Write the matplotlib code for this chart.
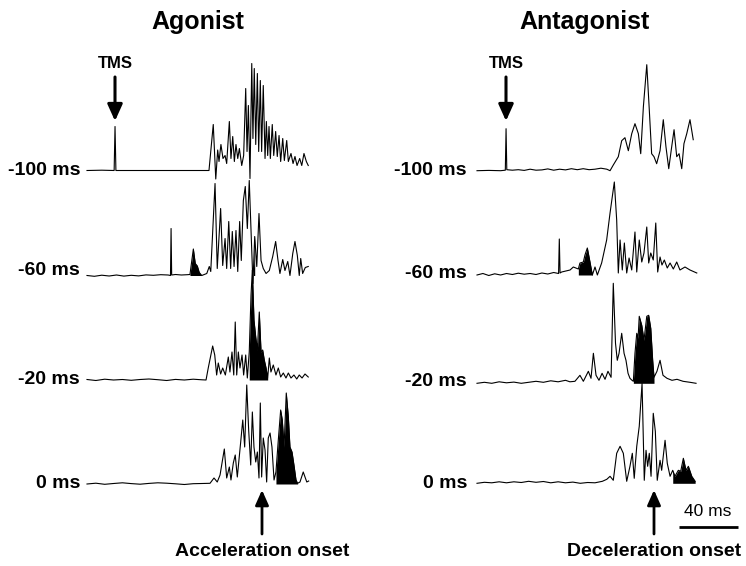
import numpy as np
import matplotlib.pyplot as plt

plt.rcParams['font.family'] = ['Liberation Sans', 'DejaVu Sans']

# EMG traces: time from trace start (ms), rectified amplitude (a.u.)
# Agonist, TMS at -100 ms
a1_t = [0, 10, 18.4, 19, 19.6, 30, 50, 70, 82.7, 85.6, 87.3, 88.6, 89.5, 90.8, 92.2, 93.6, 94.7, 96.5,
        97.6, 98.8, 99.9, 101.0, 102.2, 103.3, 104.9, 106.2, 107.6, 108.5, 109.4, 110.5, 111.7, 112.5,
        113.4, 114.4, 115.5, 116.4, 117.5, 118.4, 119.5, 120.7, 121.6, 122.5, 123.4, 124.3, 125.6, 126.6,
        127.9, 129.0, 130.2, 131.3, 132.7, 133.8, 135.4, 136.5, 138.3, 139.7, 141.0, 142.4, 144.2, 145.6,
        147.1, 148.7, 150.0]
a1_amp = [0, 0.3, 0, 44, 0, 0, 0, 0, 0, 46, -8.5, 20.5, 9, 26, 12, 15, 7, 49,
          12, 34, 9, 26, 12, 22, 5, 15, 82, 19, 65, -8, 107, 32,
          102, 26, 97, 19, 90, 19, 85, 12, 49, 15, 44, 12, 46, 15,
          39, 14, 35, 9, 32, 10, 30, 9, 17, 7, 14, 5, 12, 5,
          17, 9, 5]

# Agonist, TMS at -60 ms
a2_t = [0, 5, 10, 15, 20, 25, 30, 35, 40, 45, 50, 55, 56.6, 57, 57.4, 60, 64, 68, 69.8, 72.1, 73.4,
        74.8, 76.1, 77.8, 81.2, 82.9, 83.9, 86.8, 88.3, 90.6, 92.0, 93.6, 94.7, 96.1, 97.4, 98.5, 99.7,
        101.0, 102.2, 103.5, 104.6, 106.0, 107.3, 108.7, 110.0, 111.4, 112.5, 113.7, 115.1, 116.6, 118.0,
        119.5, 121.4, 123.6, 125.9, 127.9, 129.5, 130.8, 132.7, 134.2, 136.1, 137.6, 139.5, 141.0, 142.6,
        143.9, 144.9, 146.2, 148.0, 150.0]
a2_amp = [0, -0.8, 0.3, -0.5, 0.5, -0.6, 0.2, -0.4, 0.6, 0.2, 0.8, 0.5, 0, 47, 0.5, 1, 0.5, 0.8, 1, 26.5, 12,
          9.5, 3, 0, 2, 9, 4, 92, 7, 67, 10, 37, 7, 54, 7, 44, 9,
          45, 4, 54, 15, 75, 89, 47, 95, 37, -8, 39, 9, 62, 15,
          7, 2, 5, 19, 34, 15, 2, 16, 5, 14, 0, 22, 34, 20,
          0, 17, 2, 8, 9]

# Agonist, TMS at -20 ms
a3_t = [0, 6, 12, 18, 24, 30, 36, 42, 48, 54, 60, 66, 72, 78, 80.7, 82.2, 85.2, 86.6, 87.9, 89.0, 90.6,
        92.0, 93.8, 95.8, 96.9, 98.3, 99.5, 100.5, 101.5, 102.6, 103.7, 105.1, 106.2, 107.6, 108.7, 110.0,
        111.2, 112.1, 113.2, 114.4, 115.5, 116.8, 118.0, 119.1, 120.2, 121.4, 122.5, 123.6, 124.7, 126.3,
        128.1, 129.7, 131.3, 133.1, 134.9, 136.5, 138.3, 140.3, 142.2, 143.9, 145.8, 147.8, 150.0]
a3_amp = [0.5, -0.5, 0.8, 0, 0.5, -0.3, 0.5, 1, 0.3, -0.5, 0.6, 0, 0.8, 0.2, 0, 12, 34, 25, 5, 17, 6,
          12, 5, 23, 8, 28, 5, 58, 5, 28, 12, 25, 5, 25, 2, 28,
          85, 110, 60, 43, 30, 68, 28, 30, 20, 12, 2, 22, 8, 15,
          5, 12, 3, 7, 2, 7, 2, 5, 1, 5, 2, 6, 3]

# Agonist, TMS at 0 ms
a4_t = [0, 6, 12, 18, 24, 30, 36, 42, 48, 54, 60, 66, 72, 78, 83.4, 86.1, 88.3, 90.2, 93.1, 94.7, 96.5,
        97.6, 99.2, 100.5, 101.9, 104.2, 105.6, 106.9, 108.3, 109.6, 111.0, 112.1, 113.2, 114.4, 115.5,
        116.6, 117.5, 118.4, 119.5, 120.7, 121.8, 122.9, 124.1, 125.4, 126.8, 128.1, 129.7, 131.3, 132.4,
        133.6, 135.1, 136.5, 137.6, 139.0, 140.3, 141.7, 142.8, 144.4, 146.6, 149.0, 150.3]
a4_amp = [0, 0.8, -0.3, 0.5, 1.2, 0.4, -0.2, 0.6, 1.2, 0.8, 0.2, -0.5, 0.3, 0.5, 0.7, 6, 2, 9, 35, 6, 17,
          4, 21, 29, 7, 42, 64, 37, 99, 54, 19, 72, 37, 22, 32,
          6, 81, 7, 46, 34, 2, 46, 51, 37, 4, 12, 44, 74, 64,
          37, 91, 67, 37, 32, 19, 4, 0.7, 2, 12, 2, 3]

# Antagonist, TMS at -100 ms
r1_t = [0, 8, 16, 19.2, 19.7, 20.2, 24, 28, 32, 36, 40, 44, 48, 52, 56, 60, 64, 68, 72, 76, 80, 84, 88,
        90.2, 92.4, 95.8, 98.1, 100.3, 102.6, 104.9, 107.1, 109.4, 111.0, 112.8, 115.1, 116.8, 118.4,
        120.0, 121.8, 124.1, 126.3, 128.1, 130.0, 132.0, 133.6, 135.4, 137.0, 138.8, 140.3, 142.2, 144.4,
        146.6]
r1_amp = [0, 0.3, 0, 0.5, 42, 1, 0.5, 1, 0.3, 1.5, 0.5, 0.8, 1.8, 0.5, 1.5, 0.8, 2, 1, 2, 1, 1.5, 2.5, 1.5,
          0, 5.7, 14, 30, 33, 20, 37, 47, 37, 17, 64, 106, 61, 17,
          14, 7, 20, 51, 24, 2, 24, 41, 14, 17, 2, 27, 37, 51,
          31]

# Antagonist, TMS at -60 ms
r2_t = [0, 4, 8, 12, 16, 20, 24, 28, 32, 36, 40, 44, 48, 52, 55.3, 55.8, 56.3, 57.4, 63.1, 65.3, 68.7,
        69.8, 72.1, 73.2, 74.8, 76.6, 78.2, 80.0, 81.6, 84.5, 87.9, 90.2, 93.1, 94.7, 95.8, 97.0, 98.5,
        99.9, 101.5, 103.1, 104.9, 107.1, 108.3, 110.0, 111.7, 113.2, 115.1, 116.4, 117.8, 119.5, 121.2,
        122.5, 124.1, 125.4, 127.0, 129.0, 130.9, 133.1, 135.4, 137.6, 141.0, 144.4, 149.0]
r2_amp = [0, 1.5, -0.5, 1.2, 0, 1.5, 0.5, 1.8, 0.8, 1.5, 0.5, 2, 1, 2.5, 1.5, 36, 2, 3, 5, 8, 6,
          12, 13, 20, 27, 13, 0, 8, 0, 12, 35, 62, 93, 55, 2, 35, 5,
          32, 2, 17, 5, 43, 3, 35, 13, 22, 48, 12, 22, 15, 52,
          3, 18, 10, 15, 7, 12, 6, 13, 5, 8, 5, 2]

# Antagonist, TMS at -20 ms
r3_t = [0, 5, 10, 15, 20, 25, 30, 35, 40, 45, 50, 55, 60, 63, 66.4, 69.8, 72.1, 75.5, 77.3, 78.9, 80.7,
        82.7, 84.8, 86.8, 88.8, 90.9, 92.4, 93.9, 95.1, 96.3, 98.1, 99.7, 101.0, 102.4, 103.7, 105.1,
        106.0, 107.1, 108.3, 109.2, 110.0, 111.7, 113.2, 115.1, 116.4, 117.8, 119.1, 120.0, 122.0, 124.1,
        126.1, 128.8, 132.2, 135.6, 139.7, 144.4, 148.5]
r3_amp = [0, 1, 0, 1.5, 0.5, 1.2, 0, 1, 2, 1, 2.5, 1.5, 3, 1.5, 2, 8, 2, 12, 5, 30, 8,
          3, 10, 4, 12, 6, 100, 40, 23, 30, 50, 30, 23, 10, 5, 3,
          2, 30, 50, 45, 67, 58, 43, 67, 68, 55, 23, 6, 12, 23,
          8, 5, 3, 4, 2, 1, 0]

# Antagonist, TMS at 0 ms
r4_t = [0, 5, 10, 15, 20, 25, 30, 35, 40, 45, 50, 55, 60, 65, 70, 75, 80, 85, 88, 90.2, 92.4, 94.7,
        97.0, 99.2, 101.5, 103.7, 105.3, 106.6, 108.3, 110.0, 111.9, 113.4, 114.6, 115.7, 116.8, 118.0,
        119.5, 120.9, 122.2, 124.1, 125.2, 127.5, 129.0, 130.9, 132.7, 134.2, 136.5, 138.1, 139.9, 141.7,
        143.3, 145.6, 147.9]
r4_amp = [0, 1, 0.5, 1.5, 0.5, 1.5, 0.8, 2, 1, 1.8, 0.5, 1.5, 0.5, 1.2, 0, 0.8, 0.5, 2, 4, 7, 3, 30,
          37, 30, 2, 17, 30, 5, 37, 57, 100, 3, 33, 17, 30, 7,
          70, 52, 3, 23, 13, 43, 20, 7, 13, 7, 13, 12, 25, 13,
          17, 7, 2]

# shaded (filled) intervals, ms from trace start
a2_fill = [(69.8, 77.8), (112.5, 113.7)]
a3_fill = [(110.0, 122.5)]
a4_fill = [(128.1, 142.8)]
r2_fill = [(68.7, 78.2)]
r3_fill = [(106.0, 120.0)]
r4_fill = [(132.7, 147.9)]

row_labels = ['-100 ms', '-60 ms', '-20 ms', '0 ms']
SCALE_MS = 40

W, H = 746, 566
PX_PER_MS = 1.475

fig = plt.figure(figsize=(W / 100, H / 100), dpi=100)
ax = fig.add_axes([0, 0, 1, 1])
ax.set_xlim(0, W / PX_PER_MS)
ax.set_ylim(0, H)
ax.axis('off')


def pos(x, y):
    return x / W, 1 - y / H


left_x0 = 87 / PX_PER_MS
right_x0 = 477 / PX_PER_MS
left_base = [H - 170.5, H - 275.5, H - 380, H - 484]
right_base = [H - 170.7, H - 275, H - 383.3, H - 483.3]

traces = [
    (a1_t, a1_amp, [], left_x0, left_base[0]),
    (a2_t, a2_amp, a2_fill, left_x0, left_base[1]),
    (a3_t, a3_amp, a3_fill, left_x0, left_base[2]),
    (a4_t, a4_amp, a4_fill, left_x0, left_base[3]),
    (r1_t, r1_amp, [], right_x0, right_base[0]),
    (r2_t, r2_amp, r2_fill, right_x0, right_base[1]),
    (r3_t, r3_amp, r3_fill, right_x0, right_base[2]),
    (r4_t, r4_amp, r4_fill, right_x0, right_base[3]),
]

for t, amp, fills, x0, base in traces:
    t = np.array(t)
    amp = np.array(amp)
    ax.plot(x0 + t, base + amp, color='black', lw=0.8)
    for a, b in fills:
        m = (t >= a) & (t <= b)
        ax.fill_between(x0 + t, base, base + amp, where=m, color='black', lw=0)

# titles
ax.text(*pos(198, 22), 'Agonist', transform=ax.transAxes, ha='center', va='center',
        fontsize=18, fontweight='bold')
ax.text(*pos(585, 22), 'Antagonist', transform=ax.transAxes, ha='center', va='center',
        fontsize=18, fontweight='bold')

# row labels
left_y = [171, 270, 379, 484]
right_y = [171, 273, 382, 484]
for lab, ly, ry in zip(row_labels, left_y, right_y):
    ax.text(*pos(80, ly), lab, transform=ax.transAxes, ha='right', va='center',
            fontsize=14, fontweight='bold')
    ax.text(*pos(467, ry), lab, transform=ax.transAxes, ha='right', va='center',
            fontsize=14, fontweight='bold')

# TMS arrows
for x in [115, 506]:
    ax.text(*pos(x, 63), 'TMS', transform=ax.transAxes, ha='center', va='center',
            fontsize=12, fontweight='bold')
    ax.annotate('', xy=pos(x, 121), xytext=pos(x, 77), xycoords='axes fraction',
                arrowprops=dict(arrowstyle='-|>,head_width=0.45,head_length=1.0', lw=2.2,
                                color='black', shrinkA=0, shrinkB=0))

# onset arrows
for x, lab in [(262, 'Acceleration onset'), (654, 'Deceleration onset')]:
    ax.annotate('', xy=pos(x, 490), xytext=pos(x, 534), xycoords='axes fraction',
                arrowprops=dict(arrowstyle='-|>,head_width=0.4,head_length=0.9', lw=2.0,
                                color='black', shrinkA=0, shrinkB=0))
    ax.text(*pos(x, 551), lab, transform=ax.transAxes, ha='center', va='center',
            fontsize=14, fontweight='bold')

# scale bar
sb_x = 679 / PX_PER_MS
ax.plot([sb_x, sb_x + SCALE_MS], [H - 527, H - 527], color='black', lw=2.0, solid_capstyle='butt')
ax.text(*pos(708, 512), f'{SCALE_MS} ms', transform=ax.transAxes, ha='center', va='center',
        fontsize=12.5)

fig.savefig('out.png', dpi=100)
